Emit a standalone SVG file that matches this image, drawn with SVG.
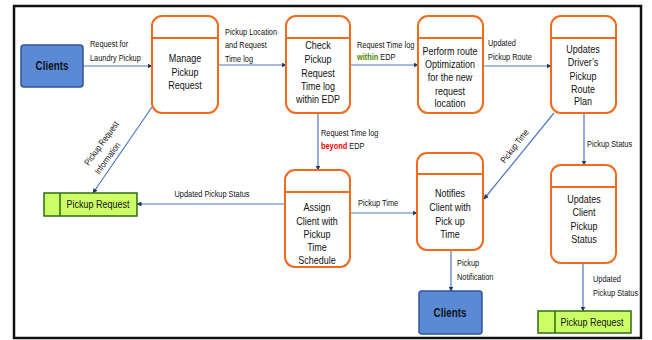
<svg xmlns="http://www.w3.org/2000/svg" width="652" height="340" viewBox="0 0 652 340">
  <style>
    .frame { fill: #ffffff; stroke: #111111; stroke-width: 2.5; }
    .proc { fill: #ffffff; stroke: #f26a1b; stroke-width: 2; }
    .hdr { stroke: #f26a1b; stroke-width: 2; }
    .ext { fill: #5a8ad6; stroke: #2f5597; stroke-width: 1.5; }
    .store { fill: #ccff66; stroke: #2e6b12; stroke-width: 1.5; }
    .flow { fill: none; stroke: #4f78c0; stroke-width: 1.2; marker-end: url(#arrow); }
    text { font-family: "Liberation Sans", Arial, sans-serif; fill: #111111; }
    .node { font-size: 11px; text-anchor: middle; }
    .extlbl { font-size: 12px; font-weight: bold; text-anchor: middle; }
    .storelbl { font-size: 11px; text-anchor: middle; }
    .lbl { font-size: 9px; }
    .ok { fill: #4e8a00; font-weight: bold; }
    .bad { fill: #ff0000; font-weight: bold; }
  </style>
  <defs>
    <marker id="arrow" viewBox="0 0 10 10" refX="9" refY="5" markerWidth="5" markerHeight="5" orient="auto" markerUnits="userSpaceOnUse">
      <path d="M0,0 L10,5 L0,10 z" fill="#1f3864"/>
    </marker>
  </defs>

  <rect class="frame" x="14" y="6" width="627" height="332"/>

  <!-- data flows; every text is narrowed with scale(0.82,1) about its own anchor -->
  <g id="connectors">
    <line class="flow" x1="83" y1="66" x2="152" y2="66"/>
    <line class="flow" x1="218" y1="65" x2="286" y2="65"/>
    <line class="flow" x1="350" y1="65" x2="418" y2="65"/>
    <line class="flow" x1="483" y1="66" x2="551" y2="66"/>
    <line class="flow" x1="318" y1="113" x2="318" y2="170"/>
    <line class="flow" x1="584" y1="113" x2="584" y2="165"/>
    <line class="flow" x1="554" y1="113" x2="484" y2="199"/>
    <line class="flow" x1="152" y1="107" x2="93" y2="193"/>
    <line class="flow" x1="285" y1="204" x2="137" y2="204"/>
    <line class="flow" x1="350" y1="213" x2="417" y2="213"/>
    <line class="flow" x1="451" y1="250" x2="451" y2="291"/>
    <line class="flow" x1="583" y1="263" x2="583" y2="311"/>

    <text class="lbl" transform="translate(90,47) scale(0.82,1)">Request for</text>
    <text class="lbl" transform="translate(90,61) scale(0.82,1)">Laundry Pickup</text>
    <text class="lbl" transform="translate(225,35) scale(0.82,1)">Pickup Location</text>
    <text class="lbl" transform="translate(225,48) scale(0.82,1)">and Request</text>
    <text class="lbl" transform="translate(225,62) scale(0.82,1)">Time log</text>
    <text class="lbl" transform="translate(357,48) scale(0.82,1)">Request Time log</text>
    <text class="lbl" transform="translate(357,60) scale(0.82,1)"><tspan class="ok">within</tspan> EDP</text>
    <text class="lbl" transform="translate(488,46) scale(0.82,1)">Updated</text>
    <text class="lbl" transform="translate(488,60) scale(0.82,1)">Pickup Route</text>
    <text class="lbl" transform="translate(321,136) scale(0.82,1)">Request Time log</text>
    <text class="lbl" transform="translate(321,149) scale(0.82,1)"><tspan class="bad">beyond</tspan> EDP</text>
    <text class="lbl" transform="translate(587,147) scale(0.82,1)">Pickup Status</text>
    <text class="lbl" text-anchor="middle" transform="translate(212,197) scale(0.82,1)">Updated Pickup Status</text>
    <text class="lbl" transform="translate(358,206) scale(0.82,1)">Pickup Time</text>
    <text class="lbl" transform="translate(457,266) scale(0.82,1)">Pickup</text>
    <text class="lbl" transform="translate(457,280) scale(0.82,1)">Notification</text>
    <text class="lbl" transform="translate(593,282) scale(0.82,1)">Updated</text>
    <text class="lbl" transform="translate(593,296) scale(0.82,1)">Pickup Status</text>
    <text class="lbl" text-anchor="middle" transform="translate(104,145) rotate(-54) scale(0.82,1)">Pickup Request</text>
    <text class="lbl" text-anchor="middle" transform="translate(110,160) rotate(-54) scale(0.82,1)">Information</text>
    <text class="lbl" text-anchor="middle" transform="translate(517,148) rotate(-52) scale(0.82,1)">Pickup Time</text>
  </g>

  <g id="clients-top">
    <rect class="ext" x="21" y="45" width="62" height="42" rx="3"/>
    <text class="extlbl" transform="translate(52,70) scale(0.82,1)">Clients</text>
  </g>

  <g id="manage-pickup">
    <rect class="proc" x="152" y="16" width="66" height="97" rx="10"/>
    <line class="hdr" x1="152" y1="38" x2="218" y2="38"/>
    <text class="node" transform="translate(185,62) scale(0.82,1)">Manage</text>
    <text class="node" transform="translate(185,76) scale(0.82,1)">Pickup</text>
    <text class="node" transform="translate(185,89) scale(0.82,1)">Request</text>
  </g>

  <g id="check-pickup">
    <rect class="proc" x="286" y="16" width="64" height="97" rx="10"/>
    <line class="hdr" x1="286" y1="38" x2="350" y2="38"/>
    <text class="node" transform="translate(318,49) scale(0.82,1)">Check</text>
    <text class="node" transform="translate(318,63) scale(0.82,1)">Pickup</text>
    <text class="node" transform="translate(318,77) scale(0.82,1)">Request</text>
    <text class="node" transform="translate(318,90) scale(0.82,1)">Time log</text>
    <text class="node" transform="translate(318,103) scale(0.82,1)">within EDP</text>
  </g>

  <g id="route-optimization">
    <rect class="proc" x="418" y="16" width="65" height="97" rx="10"/>
    <line class="hdr" x1="418" y1="38" x2="483" y2="38"/>
    <text class="node" transform="translate(450,55) scale(0.82,1)">Perform route</text>
    <text class="node" transform="translate(450,68) scale(0.82,1)">Optimization</text>
    <text class="node" transform="translate(450,81) scale(0.82,1)">for the new</text>
    <text class="node" transform="translate(450,95) scale(0.82,1)">request</text>
    <text class="node" transform="translate(450,107) scale(0.82,1)">location</text>
  </g>

  <g id="driver-route-plan">
    <rect class="proc" x="551" y="16" width="65" height="97" rx="10"/>
    <line class="hdr" x1="551" y1="38" x2="616" y2="38"/>
    <text class="node" transform="translate(583,53) scale(0.82,1)">Updates</text>
    <text class="node" transform="translate(583,66) scale(0.82,1)">Driver’s</text>
    <text class="node" transform="translate(583,80) scale(0.82,1)">Pickup</text>
    <text class="node" transform="translate(583,93) scale(0.82,1)">Route</text>
    <text class="node" transform="translate(583,105) scale(0.82,1)">Plan</text>
  </g>

  <g id="assign-schedule">
    <rect class="proc" x="285" y="170" width="65" height="97" rx="10"/>
    <line class="hdr" x1="285" y1="192" x2="350" y2="192"/>
    <text class="node" transform="translate(317,211) scale(0.82,1)">Assign</text>
    <text class="node" transform="translate(317,225) scale(0.82,1)">Client with</text>
    <text class="node" transform="translate(317,238) scale(0.82,1)">Pickup</text>
    <text class="node" transform="translate(317,251) scale(0.82,1)">Time</text>
    <text class="node" transform="translate(317,264) scale(0.82,1)">Schedule</text>
  </g>

  <g id="notify-client">
    <rect class="proc" x="417" y="153" width="66" height="97" rx="10"/>
    <line class="hdr" x1="417" y1="174" x2="483" y2="174"/>
    <text class="node" transform="translate(450,197) scale(0.82,1)">Notifies</text>
    <text class="node" transform="translate(450,211) scale(0.82,1)">Client with</text>
    <text class="node" transform="translate(450,225) scale(0.82,1)">Pick up</text>
    <text class="node" transform="translate(450,238) scale(0.82,1)">Time</text>
  </g>

  <g id="client-pickup-status">
    <rect class="proc" x="551" y="165" width="65" height="98" rx="10"/>
    <line class="hdr" x1="551" y1="187" x2="616" y2="187"/>
    <text class="node" transform="translate(584,203) scale(0.82,1)">Updates</text>
    <text class="node" transform="translate(584,216) scale(0.82,1)">Client</text>
    <text class="node" transform="translate(584,230) scale(0.82,1)">Pickup</text>
    <text class="node" transform="translate(584,243) scale(0.82,1)">Status</text>
  </g>

  <g id="pickup-store-left">
    <rect class="store" x="44" y="193" width="93" height="23"/>
    <line class="store" x1="60" y1="193" x2="60" y2="216"/>
    <text class="storelbl" transform="translate(98,208) scale(0.82,1)">Pickup Request</text>
  </g>

  <g id="clients-bottom">
    <rect class="ext" x="419" y="291" width="63" height="43" rx="3"/>
    <text class="extlbl" transform="translate(450,317) scale(0.82,1)">Clients</text>
  </g>

  <g id="pickup-store-right">
    <rect class="store" x="538" y="311" width="93" height="22"/>
    <line class="store" x1="555" y1="311" x2="555" y2="333"/>
    <text class="storelbl" transform="translate(592,326) scale(0.82,1)">Pickup Request</text>
  </g>
</svg>
